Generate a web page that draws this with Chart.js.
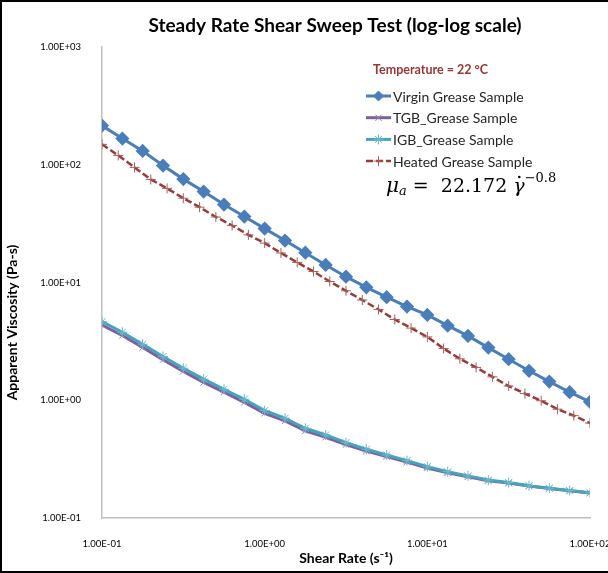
<!DOCTYPE html>
<html>
<head>
<meta charset="utf-8">
<script src="https://cdn.jsdelivr.net/npm/chart.js@4.4.0/dist/chart.umd.min.js"></script>
<style>
  html, body { margin: 0; padding: 0; background: #fff; }
  #wrap { width: 608px; height: 573px; }
</style>
</head>
<body>
<div id="wrap"><canvas id="shearChart" width="608" height="573"></canvas></div>
<script>
// shear rate (1/s) -- 8 points per decade
const rateA = [0.1, 0.1334, 0.1778, 0.2371, 0.3162, 0.4217, 0.5623, 0.7499, 1,
  1.334, 1.778, 2.371, 3.162, 4.217, 5.623, 7.499, 10,
  13.34, 17.78, 23.71, 31.62, 42.17, 56.23, 74.99, 100];
// shear rate (1/s) -- 10 points per decade (heated sample)
const rateB = [0.1, 0.1259, 0.1585, 0.1995, 0.2512, 0.3162, 0.3981, 0.5012, 0.631, 0.7943, 1,
  1.259, 1.585, 1.995, 2.512, 3.162, 3.981, 5.012, 6.31, 7.943, 10,
  12.59, 15.85, 19.95, 25.12, 31.62, 39.81, 50.12, 63.1, 79.43, 100];

// apparent viscosity (Pa-s)
const virgin = [215, 167, 131, 98.5, 75.5, 59.2, 45.9, 36.3, 28.7, 22.7, 17.9, 14.1, 11.2,
  9.1, 7.5, 6.24, 5.3, 4.3, 3.52, 2.8, 2.23, 1.78, 1.44, 1.17, 0.97];
const tgb = [4.35, 3.55, 2.81, 2.21, 1.76, 1.42, 1.17, 0.96, 0.775, 0.668, 0.55, 0.485, 0.42,
  0.37, 0.332, 0.298, 0.266, 0.242, 0.224, 0.207, 0.198, 0.187, 0.178, 0.17, 0.163];
const igb = [4.65, 3.78, 2.99, 2.35, 1.87, 1.51, 1.24, 1.02, 0.818, 0.703, 0.578, 0.507, 0.437,
  0.384, 0.343, 0.307, 0.273, 0.247, 0.228, 0.21, 0.2, 0.188, 0.179, 0.171, 0.164];
const heated = [149, 120, 95, 75, 63, 52, 43.6, 36, 30.5, 25.4, 21.6, 17.8, 14.8, 12.4, 10.2,
  8.5, 7.1, 5.9, 4.85, 4.1, 3.45, 2.75, 2.25, 1.9, 1.58, 1.32, 1.14, 0.99, 0.84, 0.74, 0.64];

const seriesNames = ["Virgin Grease Sample", "TGB_Grease Sample", "IGB_Grease Sample", "Heated Grease Sample"];
const titleText = "Steady Rate Shear Sweep Test (log-log scale)";
const tempText = "Temperature = 22 \u00B0C";
const yTitle = "Apparent Viscosity (Pa-s)";
const xTitle = "Shear Rate (s\u207B\u00B9)";

const FONT = "Lato, 'Open Sans', sans-serif";

function pts(xs, ys) {
  return xs.map((x, i) => ({ x: x, y: ys[i] }));
}

function sciLabel(v) {
  const l = Math.log10(v);
  const e = Math.round(l);
  if (Math.abs(l - e) > 1e-6) return "";
  const sign = e < 0 ? "-" : "+";
  return "1.00E" + sign + String(Math.abs(e)).padStart(2, "0");
}

const overlayPlugin = {
  id: "overlay",
  beforeDraw(chart) {
    const ctx = chart.ctx;
    ctx.save();
    ctx.fillStyle = "#fff";
    ctx.fillRect(0, 0, chart.width, chart.height);
    ctx.restore();
  },
  afterDraw(chart) {
    const ctx = chart.ctx;
    const area = chart.chartArea;
    ctx.save();

    // outer frame
    ctx.strokeStyle = "#000";
    ctx.lineWidth = 2;
    ctx.beginPath();
    ctx.moveTo(chart.width + 2, 1);
    ctx.lineTo(1, 1);
    ctx.lineTo(1, chart.height - 1);
    ctx.lineTo(chart.width + 2, chart.height - 1);
    ctx.stroke();

    // title
    ctx.fillStyle = "#000";
    ctx.font = "bold 19px " + FONT;
    ctx.textAlign = "center";
    ctx.textBaseline = "middle";
    ctx.fillText(titleText, (area.left + area.right) / 2 - 11, 26);

    // y axis title (sits a bit below the plot centre, as in the original)
    ctx.save();
    ctx.translate(12, (area.top + area.bottom) / 2 + 40);
    ctx.rotate(-Math.PI / 2);
    ctx.font = "bold 14px " + FONT;
    ctx.fillText(yTitle, 0, 0);
    ctx.restore();

    // temperature note
    const lx = area.left + 264;
    ctx.textAlign = "left";
    ctx.font = "bold 12.5px " + FONT;
    ctx.fillStyle = "#953735";
    ctx.fillText(tempText, lx + 7, area.top + 23);

    // legend
    ctx.font = "14px " + FONT;
    chart.data.datasets.forEach((ds, i) => {
      const y = area.top + 49 + i * 21.7;
      ctx.strokeStyle = ds.borderColor;
      ctx.lineWidth = ds.borderWidth;
      ctx.setLineDash(ds.borderDash || []);
      ctx.beginPath();
      ctx.moveTo(lx, y);
      ctx.lineTo(lx + 25, y);
      ctx.stroke();
      ctx.setLineDash([]);
      ctx.fillStyle = ds.pointBackgroundColor;
      ctx.strokeStyle = ds.pointBorderColor;
      ctx.lineWidth = 1;
      Chart.helpers.drawPoint(ctx, {
        pointStyle: ds.pointStyle, radius: ds.pointRadius, rotation: 0, borderWidth: 1
      }, lx + 12.5, y);
      ctx.fillStyle = "#262626";
      ctx.fillText(ds.label, lx + 27, y + 1);
    });

    // power-law fit
    let fx = lx + 20;
    const fy = area.top + 140;
    const serif = "'DejaVu Serif', 'Liberation Serif', serif";
    const part = (txt, font, dy) => {
      ctx.font = font;
      ctx.fillText(txt, fx, fy + dy);
      fx += ctx.measureText(txt).width;
    };
    ctx.fillStyle = "#000";
    part("\u03BC", "italic 20px " + serif, 0);
    part("a", "italic 13px " + serif, 5);
    part(" =  22.172 ", "19px " + serif, 0);
    const gx = fx;
    part("\u03B3", "italic 19px " + serif, 0);
    ctx.beginPath();
    ctx.arc(gx + 6, fy - 10, 1.3, 0, Math.PI * 2);
    ctx.fill();
    part("\u22120.8", "13px " + serif, -8);

    ctx.restore();
  }
};

const ctx = document.getElementById("shearChart");

new Chart(ctx, {
  type: "line",
  data: {
    datasets: [
      {
        label: seriesNames[0],
        data: pts(rateA, virgin),
        borderColor: "#4A7EBB",
        borderWidth: 3,
        pointStyle: "rectRot",
        pointRadius: 5,
        pointBackgroundColor: "#4A7EBB",
        pointBorderColor: "#4A7EBB",
        order: 0,
      },
      {
        label: seriesNames[1],
        data: pts(rateA, tgb),
        borderColor: "#7D5FA0",
        borderWidth: 3,
        pointStyle: "crossRot",
        pointRadius: 4.5,
        pointBackgroundColor: "#7D5FA0",
        pointBorderColor: "#9A86B8",
        pointBorderWidth: 1,
        order: 3,
      },
      {
        label: seriesNames[2],
        data: pts(rateA, igb),
        borderColor: "#45A3BB",
        borderWidth: 3,
        pointStyle: "star",
        pointRadius: 5,
        pointBackgroundColor: "#45A3BB",
        pointBorderColor: "#6CB8CC",
        pointBorderWidth: 1,
        order: 2,
      },
      {
        label: seriesNames[3],
        data: pts(rateB, heated),
        borderColor: "#9B3B38",
        borderWidth: 2.5,
        borderDash: [7, 3],
        pointStyle: "cross",
        pointRadius: 5,
        pointBackgroundColor: "#9B3B38",
        pointBorderColor: "#A5605E",
        pointBorderWidth: 1,
        order: 1,
      },
    ],
  },
  options: {
    responsive: false,
    animation: false,
    layout: { padding: { left: 4, right: 18, top: 47, bottom: 6 } },
    plugins: {
      legend: { display: false },
      title: { display: false },
      tooltip: { enabled: false },
    },
    scales: {
      x: {
        type: "logarithmic",
        min: 0.1,
        max: 100,
        grid: { display: false },
        border: { display: true, color: "#BFBFBF", width: 1.5 },
        ticks: {
          autoSkip: false,
          maxRotation: 0,
          padding: 12,
          color: "#000",
          font: { family: FONT, size: 9.5 },
          callback: (v) => sciLabel(v),
        },
        title: {
          display: true,
          text: xTitle,
          color: "#000",
          font: { family: FONT, size: 14, weight: "bold" },
          padding: { top: 0, bottom: 0 },
        },
        afterFit(s) {
          s.height = 49;
          s.paddingLeft = 0;
          s.paddingRight = 0;
        },
      },
      y: {
        type: "logarithmic",
        min: 0.1,
        max: 1000,
        grid: { display: false },
        border: { display: true, color: "#BFBFBF", width: 1.5 },
        ticks: {
          autoSkip: false,
          padding: 13,
          color: "#000",
          font: { family: FONT, size: 9.5 },
          callback: (v) => sciLabel(v),
        },
        title: { display: false },
        afterFit(s) {
          s.width = 98;
          s.paddingTop = 0;
          s.paddingBottom = 0;
        },
      },
    },
  },
  plugins: [overlayPlugin],
});
</script>
</body>
</html>
